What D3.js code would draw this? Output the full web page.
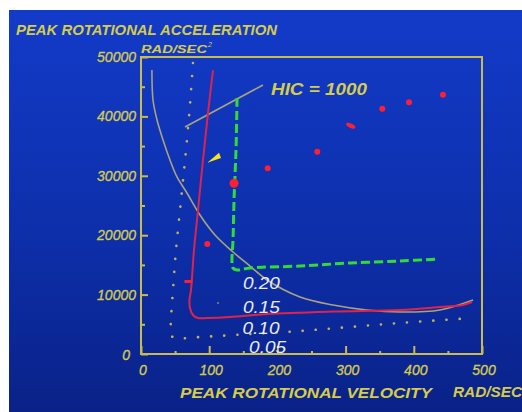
<!DOCTYPE html>
<html><head><meta charset="utf-8">
<script src="https://cdn.jsdelivr.net/npm/d3@7"></script>
<style>body{margin:0;background:#fff}svg{display:block}</style>
</head><body>
<svg id="c" width="522" height="412"></svg>
<script>
// ---- data (x: rad/s, y: rad/s^2) ----
const xTickValues = [0, 100, 200, 300, 400, 500];
const yTickValues = [0, 10000, 20000, 30000, 40000, 50000];
const xMinorTicks = [50, 150, 250, 350, 450];
const yMinorTicks = [5000, 15000, 25000, 35000, 45000];

const hicCurve = [[16,47800],[17.6,42760],[23.5,39390],[32.3,36030],[42.5,32660],[52.8,29800],[67.4,27100],[86.5,23400],[108.5,20030],[134.9,17170],[159.8,14810],[184.8,12460],[233.1,9600],[281.5,8250],[331.4,7410],[379.8,7070],[438.4,7410],[486.8,9090]];
const hicPointer = [[64.5,38220],[178.9,45290]];
const dottedCurve = [[76.2,48990],[71.8,41920],[66,34340],[58.7,25930],[51.3,17510],[46.9,10770],[44,5720],[44,3200],[49.9,2690],[86.5,2860],[159.8,3370],[233.1,3870],[306.5,4550],[379.8,5220],[485.3,6060]];
const redCurve = [[105.6,47810],[98.2,40570],[90.9,32660],[83.6,24240],[77.7,17510],[73.3,10770],[71.1,9090],[71.8,7740],[76.2,6570],[83.6,6060],[96.8,6060],[130.5,6230],[184.8,6730],[281.5,7150],[379.8,7410],[438.4,7910],[472.1,8250],[485.3,8750]];
const greenCurve = [[140.8,43100],[139.3,34340],[136.4,25930],[134.9,19190],[133.4,15490],[134.9,14480],[140.8,14140],[159.8,14480],[233.1,14810],[306.5,15320],[379.8,15660],[435.5,15990]];
const redPointsX = [185.8, 258.5, 353.8, 393.0, 442.8, 97.2];
const redPointsY = [31260, 34060, 41300, 42370, 43650, 18520];
const bigPoint = [136.4, 28740];
const redDash = [307.5, 38430];
const smallDash = [69.6, 12210];
const faintDot = [112.9, 8590];
const arrowHead = [[97.2,32200],[114.4,33890],[117.3,33000]];
const curveLabels = ["0.20", "0.15", "0.10", "0.05"];
const curveLabelX = [149.5, 149.5, 148.8, 158.5];
const curveLabelY = [10950, 6900, 3370, 170];

// ---- drawing ----
const svg = d3.select("#c");
const W = 522, H = 412;
const x = d3.scaleLinear().domain([0, 500]).range([141, 482]);
const y = d3.scaleLinear().domain([0, 50000]).range([354, 57]);
const FONT = "'Liberation Sans', Arial, sans-serif";
const YEL = "#d6cc4a";
const AX = "#c9bc4c";

const defs = svg.append("defs");
const grad = defs.append("linearGradient").attr("id", "bg").attr("x1", 0).attr("y1", 0).attr("x2", 0).attr("y2", 1);
grad.append("stop").attr("offset", "0%").attr("stop-color", "#133bc9");
grad.append("stop").attr("offset", "55%").attr("stop-color", "#0d2fab");
grad.append("stop").attr("offset", "100%").attr("stop-color", "#0a2288");
svg.append("rect").attr("x", 9).attr("y", 10).attr("width", W - 9).attr("height", H - 10).attr("fill", "url(#bg)");

// frame
svg.append("rect").attr("x", x(0)).attr("y", y(50000)).attr("width", x(500) - x(0)).attr("height", y(0) - y(50000))
  .attr("fill", "none").attr("stroke", AX).attr("stroke-width", 2);

// axes ticks
const gx = svg.append("g").attr("transform", `translate(0,${y(0)})`)
  .call(d3.axisBottom(x).tickValues(xTickValues).tickSizeInner(-8).tickSizeOuter(0).tickFormat(""));
const gxm = svg.append("g").attr("transform", `translate(0,${y(0)})`)
  .call(d3.axisBottom(x).tickValues(xMinorTicks).tickSizeInner(-3).tickSizeOuter(0).tickFormat(""));
const gy = svg.append("g").attr("transform", `translate(${x(0)},0)`)
  .call(d3.axisLeft(y).tickValues(yTickValues).tickSizeInner(-7).tickSizeOuter(0).tickFormat(""));
const gym = svg.append("g").attr("transform", `translate(${x(0)},0)`)
  .call(d3.axisLeft(y).tickValues(yMinorTicks).tickSizeInner(-4).tickSizeOuter(0).tickFormat(""));
[gx, gxm, gy, gym].forEach(g => {
  g.select(".domain").remove();
  g.selectAll("line").attr("stroke", AX).attr("stroke-width", 2);
});

// tick labels
svg.append("g").selectAll("text").data(xTickValues).join("text")
  .attr("x", d => x(d) + 2).attr("y", 375).attr("text-anchor", "middle")
  .attr("font-family", FONT).attr("font-style", "italic").attr("font-size", 14).attr("fill", YEL)
  .attr("stroke", YEL).attr("stroke-width", 0.3)
  .text(d => d);
svg.append("g").selectAll("text").data(yTickValues).join("text")
  .attr("x", d => d === 0 ? 130 : 136).attr("y", d => y(d) + 5 + (d === 0 ? 1 : 0)).attr("text-anchor", "end")
  .attr("font-family", FONT).attr("font-style", "italic").attr("font-size", 14).attr("fill", YEL)
  .attr("stroke", YEL).attr("stroke-width", 0.3)
  .text(d => d);

// titles
function label(t, px, py, size, len, col, bold) {
  const e = svg.append("text").attr("x", px).attr("y", py).attr("font-family", FONT).attr("font-style", "italic")
    .attr("font-size", size).attr("fill", col || YEL).text(t);
  if (bold) e.attr("font-weight", "bold");
  if (len) e.attr("textLength", len).attr("lengthAdjust", "spacingAndGlyphs");
  return e;
}
label("PEAK ROTATIONAL ACCELERATION", 16, 35, 15, 261, null, true);
label("RAD/SEC", 141, 53, 11.5, 66, null, true);
label("2", 208, 47, 7);
label("PEAK ROTATIONAL VELOCITY", 180, 398, 14, 252, null, true);
label("RAD/SEC", 453, 397, 14, 69, null, true);

const line = d3.line().x(d => x(d[0])).y(d => y(d[1])).curve(d3.curveCatmullRom.alpha(0.5));

// curves
svg.append("path").attr("d", line(hicCurve)).attr("fill", "none").attr("stroke", "#a9a27e").attr("stroke-width", 1.6);
svg.append("path").attr("d", d3.line().x(d => x(d[0])).y(d => y(d[1]))(hicPointer)).attr("fill", "none").attr("stroke", "#a9a27e").attr("stroke-width", 1.6);
svg.append("path").attr("d", line(dottedCurve)).attr("fill", "none").attr("stroke", "#c4b25a").attr("stroke-width", 2.6)
  .attr("stroke-dasharray", "0.1 13").attr("stroke-linecap", "round");
svg.append("path").attr("d", line(redCurve)).attr("fill", "none").attr("stroke", "#e0234a").attr("stroke-width", 2);
svg.append("path").attr("d", line(greenCurve)).attr("fill", "none").attr("stroke", "#31dc34").attr("stroke-width", 3)
  .attr("stroke-dasharray", "9 4");

// points
svg.append("g").selectAll("circle").data(redPointsX).join("circle")
  .attr("cx", d => x(d)).attr("cy", (d, i) => y(redPointsY[i])).attr("r", 3).attr("fill", "#ff1f33");
svg.append("circle").attr("cx", x(bigPoint[0])).attr("cy", y(bigPoint[1])).attr("r", 4.5).attr("fill", "#ff1f33");
svg.append("ellipse").attr("cx", x(redDash[0])).attr("cy", y(redDash[1])).attr("rx", 5).attr("ry", 2.2)
  .attr("transform", `rotate(25,${x(redDash[0])},${y(redDash[1])})`).attr("fill", "#ff1f33");
svg.append("rect").attr("x", x(smallDash[0]) - 4).attr("y", y(smallDash[1]) - 1.5).attr("width", 8).attr("height", 3).attr("fill", "#ff1f33");
svg.append("circle").attr("cx", x(faintDot[0])).attr("cy", y(faintDot[1])).attr("r", 1).attr("fill", "#8a8a70");
svg.append("path").attr("d", "M" + arrowHead.map(d => [x(d[0]), y(d[1])].join(",")).join("L") + "Z").attr("fill", "#f2e41e");

// labels
label("HIC = 1000", 271, 95, 17, 96, null, true);
svg.append("g").selectAll("text").data(curveLabels).join("text")
  .attr("x", (d, i) => x(curveLabelX[i])).attr("y", (d, i) => y(curveLabelY[i]))
  .attr("font-family", FONT).attr("font-style", "italic").attr("font-size", 17).attr("fill", "#e8ecf6")
  .attr("textLength", 37).attr("lengthAdjust", "spacingAndGlyphs")
  .text(d => d);
</script>
</body></html>
